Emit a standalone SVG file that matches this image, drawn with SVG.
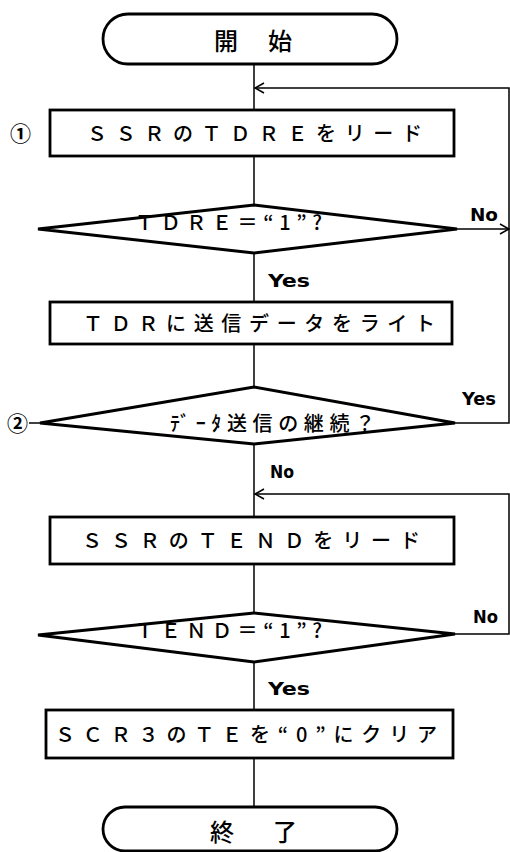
<svg xmlns="http://www.w3.org/2000/svg" width="510" height="852" viewBox="0 0 510 852">
<defs>
<style>
.shape{fill:#fff;stroke:#000;stroke-width:2.8}
.conn{fill:none;stroke:#000;stroke-width:1.5}
.t{font-family:"Noto Sans CJK JP","Noto Sans CJK SC",sans-serif;font-size:20px;font-weight:500;fill:#000}
.num{font-family:"Noto Sans CJK JP","Noto Sans CJK SC",sans-serif;font-size:21px;font-weight:bold;fill:#000}
.lbl{font-family:"Liberation Sans Narrow","DejaVu Sans Condensed","Liberation Sans",sans-serif;font-weight:bold;font-size:17px;fill:#000}
</style>
<marker id="ah" markerWidth="12" markerHeight="12" refX="10" refY="6" orient="auto" markerUnits="userSpaceOnUse">
<path d="M1,1 L10,6 L1,11" fill="none" stroke="#000" stroke-width="1.5"/>
</marker>
</defs>
<rect width="510" height="852" fill="#fff"/>
<g id="connectors">
<line class="conn" x1="254" y1="64" x2="254" y2="110"/>
<line class="conn" x1="254" y1="156" x2="254" y2="205"/>
<line class="conn" x1="254" y1="253" x2="254" y2="302"/>
<line class="conn" x1="254" y1="344" x2="254" y2="387"/>
<line class="conn" x1="254" y1="444" x2="254" y2="517"/>
<line class="conn" x1="254" y1="564" x2="254" y2="613"/>
<line class="conn" x1="254" y1="662" x2="254" y2="710"/>
<line class="conn" x1="254" y1="758" x2="254" y2="807"/>
<line class="conn" x1="457" y1="229" x2="509" y2="229" marker-end="url(#ah)"/>
<polyline class="conn" points="455,423 509,423 509,88 255,88" marker-end="url(#ah)"/>
<polyline class="conn" points="455,634 509,634 509,494 255,494" marker-end="url(#ah)"/>
<line class="conn" x1="29" y1="423" x2="40" y2="423"/>
<text class="lbl" x="470" y="221" textLength="28" lengthAdjust="spacingAndGlyphs">No</text>
<text class="lbl" x="268" y="287" textLength="42" lengthAdjust="spacingAndGlyphs">Yes</text>
<text class="lbl" x="462" y="405" textLength="34" lengthAdjust="spacingAndGlyphs">Yes</text>
<text class="lbl" x="270" y="478" textLength="24" lengthAdjust="spacingAndGlyphs">No</text>
<text class="lbl" x="473" y="623" textLength="25" lengthAdjust="spacingAndGlyphs">No</text>
<text class="lbl" x="268" y="695" textLength="42" lengthAdjust="spacingAndGlyphs">Yes</text>
</g>
<g id="start">
<rect class="shape" x="103" y="14" width="294" height="50" rx="25"/>
<text class="t" x="214" y="50" style="font-size:24px" textLength="78" lengthAdjust="spacing">開　始</text>
</g>
<g id="step1">
<text class="num" x="10" y="141">①</text>
<rect class="shape" x="50" y="110" width="404" height="46"/>
<text class="t" x="87" y="141" textLength="335" lengthAdjust="spacing">ＳＳＲのＴＤＲＥをリード</text>
</g>
<g id="dec1">
<polygon class="shape" points="38,229 254,205 457,229 254,253"/>
<text class="t" x="135" y="230" textLength="187" lengthAdjust="spacing">ＴＤＲＥ＝“1”?</text>
</g>
<g id="step2">
<rect class="shape" x="50" y="302" width="402" height="42"/>
<text class="t" x="83" y="331" textLength="352" lengthAdjust="spacing">ＴＤＲに送信データをライト</text>
</g>
<g id="dec2">
<text class="num" x="7" y="431">②</text>
<polygon class="shape" points="40,423 254,387 455,423 254,444"/>
<text class="t" x="170" y="431" textLength="205" lengthAdjust="spacing">ﾃﾞｰﾀ送信の継続？</text>
</g>
<g id="step3">
<rect class="shape" x="50" y="517" width="404" height="47"/>
<text class="t" x="82" y="548" textLength="338" lengthAdjust="spacing">ＳＳＲのＴＥＮＤをリード</text>
</g>
<g id="dec3">
<polygon class="shape" points="38,635 254,613 455,634 254,662"/>
<text class="t" x="135" y="638" textLength="187" lengthAdjust="spacing">ＴＥＮＤ＝“1”?</text>
</g>
<g id="step4">
<rect class="shape" x="46" y="710" width="407" height="48"/>
<text class="t" x="55" y="742" textLength="382" lengthAdjust="spacing">ＳＣＲ３のＴＥを“0”にクリア</text>
</g>
<g id="end">
<rect class="shape" x="103" y="807" width="294" height="44" rx="22"/>
<text class="t" x="210" y="841" style="font-size:24px" textLength="87" lengthAdjust="spacing">終　了</text>
</g>
</svg>
